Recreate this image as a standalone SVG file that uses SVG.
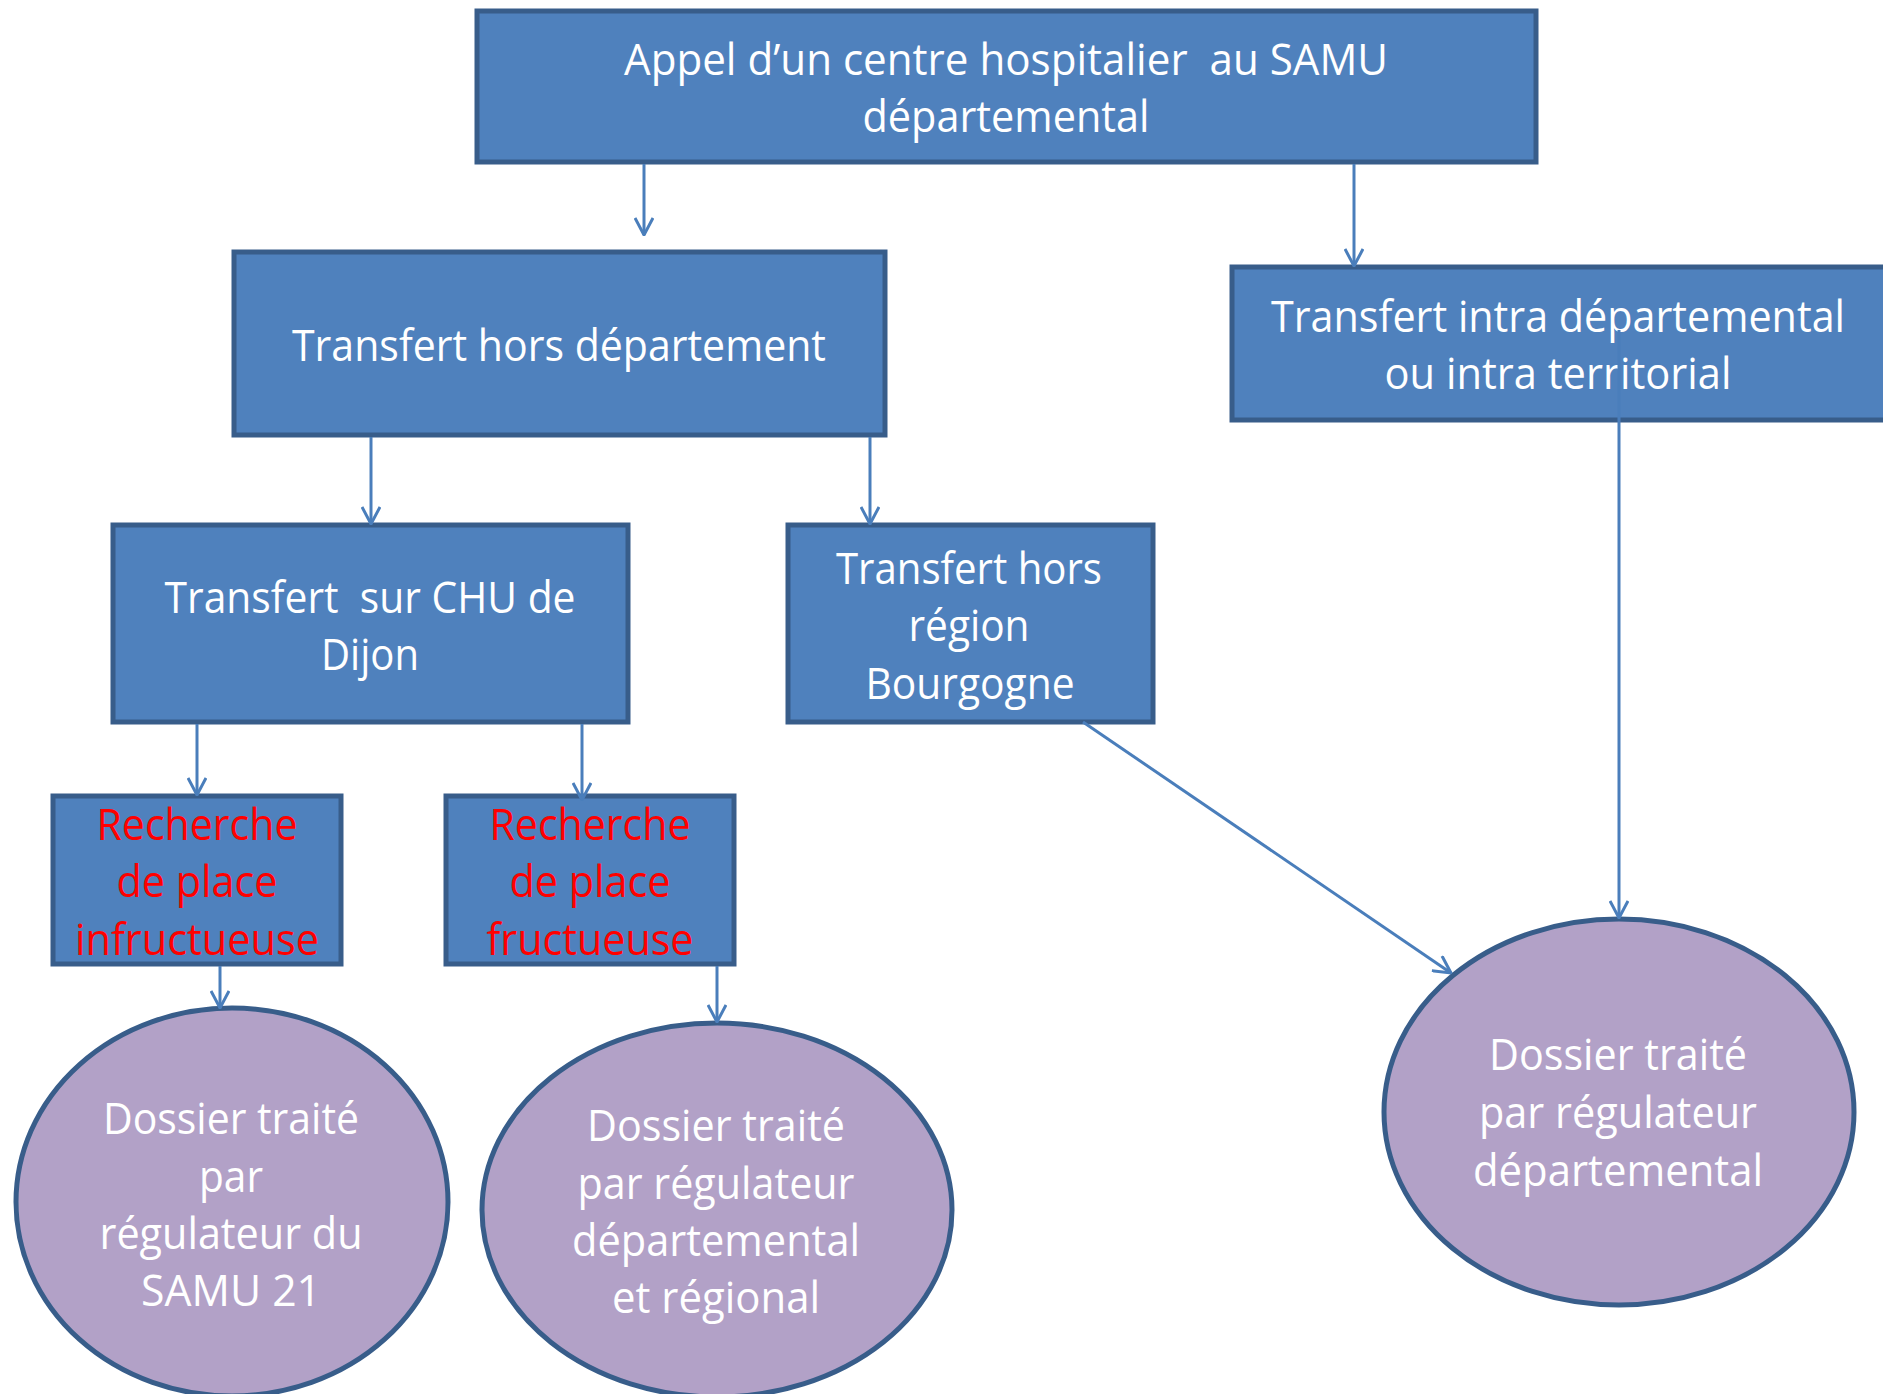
<svg xmlns="http://www.w3.org/2000/svg" width="1883" height="1394" viewBox="0 0 1883 1394">
<style>
.box{fill:#4F81BD;stroke:#385D8A;stroke-width:5}
.ell{fill:#B2A1C7;stroke:#385D8A;stroke-width:5}
.t{font-family:"Open Sans","Liberation Sans",sans-serif;font-size:43px;fill:#FFFFFF;text-anchor:middle;white-space:pre}
.r{fill:#FF0000}
.c{stroke:#4A7EBB;stroke-width:3;fill:none;marker-end:url(#arr)}
</style>
<defs>
<marker id="arr" markerUnits="userSpaceOnUse" viewBox="0 0 20 20" markerWidth="20" markerHeight="20" refX="19" refY="10" orient="auto">
<path d="M2,1 L19,10 L2,19" fill="none" stroke="#4A7EBB" stroke-width="3"/>
</marker>
</defs>
<rect width="1883" height="1394" fill="#FFFFFF"/>
<g id="n-appel">
<rect class="box" x="477" y="11" width="1059" height="151"/>
<text class="t" x="1006" y="75" textLength="764" lengthAdjust="spacingAndGlyphs" xml:space="preserve">Appel d’un centre hospitalier  au SAMU</text>
<text class="t" x="1006" y="132" textLength="287" lengthAdjust="spacingAndGlyphs">départemental</text>
</g>
<g id="n-hors-dep">
<rect class="box" x="234" y="252" width="651" height="183"/>
<text class="t" x="559" y="361" textLength="534" lengthAdjust="spacingAndGlyphs">Transfert hors département</text>
</g>
<g id="n-intra">
<rect class="box" x="1232" y="267" width="660" height="153"/>
<text class="t" x="1558" y="332" textLength="574" lengthAdjust="spacingAndGlyphs">Transfert intra départemental</text>
<text class="t" x="1558" y="389" textLength="347" lengthAdjust="spacingAndGlyphs">ou intra territorial</text>
</g>
<g id="n-chu">
<rect class="box" x="113" y="525" width="515" height="197"/>
<text class="t" x="370" y="613" textLength="411" lengthAdjust="spacingAndGlyphs" xml:space="preserve">Transfert  sur CHU de</text>
<text class="t" x="370" y="670" textLength="98" lengthAdjust="spacingAndGlyphs">Dijon</text>
</g>
<g id="n-hors-region">
<rect class="box" x="788" y="525" width="365" height="197"/>
<text class="t" x="969" y="584" textLength="266" lengthAdjust="spacingAndGlyphs">Transfert hors</text>
<text class="t" x="969" y="641" textLength="121" lengthAdjust="spacingAndGlyphs">région</text>
<text class="t" x="970" y="699" textLength="209" lengthAdjust="spacingAndGlyphs">Bourgogne</text>
</g>
<g id="n-infructueuse">
<rect class="box" x="53" y="796" width="288" height="168"/>
<text class="t r" x="197" y="840" textLength="201" lengthAdjust="spacingAndGlyphs">Recherche</text>
<text class="t r" x="197" y="897" textLength="161" lengthAdjust="spacingAndGlyphs">de place</text>
<text class="t r" x="197" y="955" textLength="244" lengthAdjust="spacingAndGlyphs">infructueuse</text>
</g>
<g id="n-fructueuse">
<rect class="box" x="446" y="796" width="288" height="168"/>
<text class="t r" x="590" y="840" textLength="201" lengthAdjust="spacingAndGlyphs">Recherche</text>
<text class="t r" x="590" y="897" textLength="161" lengthAdjust="spacingAndGlyphs">de place</text>
<text class="t r" x="590" y="955" textLength="207" lengthAdjust="spacingAndGlyphs">fructueuse</text>
</g>
<g id="n-samu21">
<ellipse class="ell" cx="232" cy="1202" rx="216" ry="194"/>
<text class="t" x="231" y="1134" textLength="256" lengthAdjust="spacingAndGlyphs">Dossier traité</text>
<text class="t" x="231" y="1192" textLength="64" lengthAdjust="spacingAndGlyphs">par</text>
<text class="t" x="231" y="1249" textLength="263" lengthAdjust="spacingAndGlyphs">régulateur du</text>
<text class="t" x="231" y="1306" textLength="180" lengthAdjust="spacingAndGlyphs">SAMU 21</text>
</g>
<g id="n-dep-reg">
<ellipse class="ell" cx="717" cy="1210" rx="235" ry="187"/>
<text class="t" x="716" y="1141" textLength="258" lengthAdjust="spacingAndGlyphs">Dossier traité</text>
<text class="t" x="716" y="1199" textLength="277" lengthAdjust="spacingAndGlyphs">par régulateur</text>
<text class="t" x="716" y="1256" textLength="288" lengthAdjust="spacingAndGlyphs">départemental</text>
<text class="t" x="716" y="1313" textLength="208" lengthAdjust="spacingAndGlyphs">et régional</text>
</g>
<g id="n-dep">
<ellipse class="ell" cx="1619" cy="1112" rx="235" ry="193"/>
<text class="t" x="1618" y="1070" textLength="258" lengthAdjust="spacingAndGlyphs">Dossier traité</text>
<text class="t" x="1618" y="1128" textLength="278" lengthAdjust="spacingAndGlyphs">par régulateur</text>
<text class="t" x="1618" y="1186" textLength="290" lengthAdjust="spacingAndGlyphs">départemental</text>
</g>
<g id="connectors">
<line class="c" x1="644" y1="164" x2="644" y2="235"/>
<line class="c" x1="1354" y1="164" x2="1354" y2="266"/>
<line class="c" x1="371" y1="437" x2="371" y2="524"/>
<line class="c" x1="870" y1="437" x2="870" y2="524"/>
<line class="c" x1="1619" y1="330" x2="1619" y2="918"/>
<line class="c" x1="197" y1="724" x2="197" y2="795"/>
<line class="c" x1="582" y1="724" x2="582" y2="800"/>
<line class="c" x1="1083" y1="722" x2="1451" y2="973"/>
<line class="c" x1="220" y1="966" x2="220" y2="1008"/>
<line class="c" x1="717" y1="966" x2="717" y2="1022"/>
</g>
</svg>
